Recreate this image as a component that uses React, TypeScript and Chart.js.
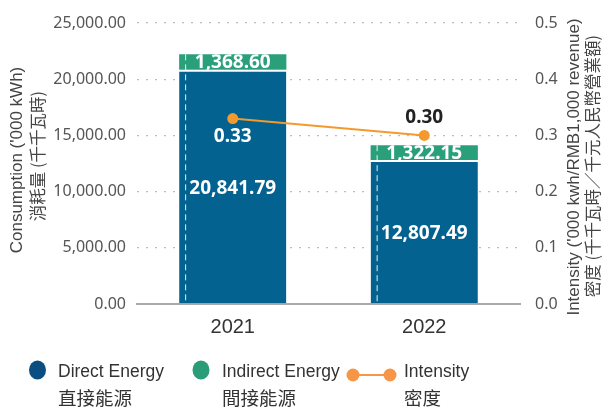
import { useEffect, useRef } from "react";
import { Chart, registerables } from "chart.js";
Chart.register(...registerables);

const years = ["2021", "2022"];
const directEnergy = [20841.79, 12807.49];
const indirectEnergy = [1368.6, 1322.15];
const intensity = [0.33, 0.3];
const leftMax = 25000;
const leftStep = 5000;
const rightMax = 0.5;
const rightStep = 0.1;

const BLUE = "#03628f";
const GREEN = "#2aa07a";
const ORANGE = "#f39a2e";
const LEG_BLUE = "#0b4f82";
const LEG_GREEN = "#2a9d78";
const LEG_ORANGE = "#f79646";
const LATIN = '"Liberation Sans", "Noto Sans CJK TC", sans-serif';
const LABEL = '"Noto Sans", "Noto Sans CJK TC", sans-serif';

const fmt2 = (v: number) =>
  v.toLocaleString("en-US", { minimumFractionDigits: 2, maximumFractionDigits: 2 });

const extras = {
  id: "extras",
  afterDatasetsDraw(chart: any) {
    const ctx = chart.ctx;
    const metaLine = chart.getDatasetMeta(0);
    const metaDirect = chart.getDatasetMeta(1);
    const metaIndirect = chart.getDatasetMeta(2);
    ctx.save();
    metaDirect.data.forEach((el: any, i: number) => {
      const top = metaIndirect.data[i].y;
      const left = el.x - el.width / 2 + 6;
      ctx.beginPath();
      ctx.setLineDash([6, 4]);
      ctx.strokeStyle = "rgba(255,255,255,0.9)";
      ctx.lineWidth = 1;
      ctx.moveTo(left + 0.5, top);
      ctx.lineTo(left + 0.5, el.base);
      ctx.stroke();
    });
    ctx.setLineDash([]);
    ctx.textAlign = "center";
    ctx.textBaseline = "middle";
    ctx.font = `bold 19px ${LABEL}`;
    ctx.fillStyle = "#ffffff";
    metaDirect.data.forEach((el: any, i: number) => {
      ctx.fillText(fmt2(directEnergy[i]), el.x, (el.y + el.base) / 2 + 2);
    });
    metaIndirect.data.forEach((el: any, i: number) => {
      ctx.save();
      ctx.beginPath();
      ctx.rect(el.x - el.width / 2, el.y, el.width, el.base - el.y);
      ctx.clip();
      ctx.fillText(fmt2(indirectEnergy[i]), el.x, (el.y + el.base) / 2 + 1);
      ctx.restore();
    });
    metaLine.data.forEach((el: any, i: number) => {
      if (i === 0) {
        ctx.fillStyle = "#ffffff";
        ctx.fillText(intensity[i].toFixed(2), el.x, el.y + 18);
      } else {
        ctx.fillStyle = "#222222";
        ctx.fillText(intensity[i].toFixed(2), el.x, el.y - 18);
      }
    });
    ctx.restore();
  },
  afterDraw(chart: any) {
    const ctx = chart.ctx;
    ctx.save();
    ctx.fillStyle = "#444";
    ctx.textAlign = "center";
    ctx.textBaseline = "middle";
    const rot = (x: number, y: number, t: string) => {
      ctx.save();
      ctx.translate(x, y);
      ctx.rotate(-Math.PI / 2);
      ctx.fillText(t, 0, 0);
      ctx.restore();
    };
    ctx.font = `17px ${LATIN}`;
    rot(17, 160, "Consumption ('000 kWh)");
    rot(574, 167, "Intensity ('000 kwh/RMB1,000 revenue)");
    ctx.font = `16.5px "Noto Sans CJK TC", ${LATIN}`;
    rot(38, 156, "消耗量 (千千瓦時)");
    rot(593, 166, "密度 (千千瓦時／千元人民幣營業額)");

    // legend
    ctx.fillStyle = LEG_BLUE;
    ctx.beginPath();
    ctx.ellipse(37.5, 370, 8.5, 9.5, 0, 0, Math.PI * 2);
    ctx.fill();
    ctx.fillStyle = LEG_GREEN;
    ctx.beginPath();
    ctx.ellipse(201, 370, 8.5, 9.5, 0, 0, Math.PI * 2);
    ctx.fill();
    ctx.strokeStyle = LEG_ORANGE;
    ctx.lineWidth = 2;
    ctx.beginPath();
    ctx.moveTo(353, 375);
    ctx.lineTo(390, 375);
    ctx.stroke();
    ctx.fillStyle = LEG_ORANGE;
    [353, 390].forEach((x) => {
      ctx.beginPath();
      ctx.arc(x, 375, 6.5, 0, Math.PI * 2);
      ctx.fill();
    });
    ctx.fillStyle = "#333";
    ctx.textAlign = "left";
    ctx.font = `17.5px ${LATIN}`;
    ctx.fillText("Direct Energy", 58, 372);
    ctx.fillText("Indirect Energy", 222, 372);
    ctx.fillText("Intensity", 404, 372);
    ctx.font = `18.5px "Noto Sans CJK TC", sans-serif`;
    ctx.fillText("直接能源", 58, 398);
    ctx.fillText("間接能源", 222, 398);
    ctx.fillText("密度", 404, 398);
    ctx.restore();
  },
};

export default function App() {
  const ref = useRef<HTMLCanvasElement>(null);
  useEffect(() => {
    if (!ref.current) return;
    const chart = new Chart(ref.current, {
      type: "bar",
      data: {
        labels: years,
        datasets: [
          {
            type: "line",
            label: "Intensity",
            data: intensity,
            yAxisID: "y1",
            borderColor: ORANGE,
            backgroundColor: ORANGE,
            borderWidth: 2,
            pointRadius: 5.5,
            pointBorderWidth: 0,
            order: 0,
          } as any,
          {
            label: "Direct Energy",
            data: directEnergy,
            backgroundColor: BLUE,
            borderColor: "#ffffff",
            borderWidth: { top: 2, left: 0, right: 0, bottom: 0 },
            borderSkipped: false,
            yAxisID: "y",
            stack: "s",
            order: 1,
            barPercentage: 0.56,
            categoryPercentage: 1,
          },
          {
            label: "Indirect Energy",
            data: indirectEnergy,
            backgroundColor: GREEN,
            borderWidth: 0,
            yAxisID: "y",
            stack: "s",
            order: 1,
            barPercentage: 0.56,
            categoryPercentage: 1,
          },
        ],
      },
      options: {
        responsive: false,
        animation: false,
        devicePixelRatio: 1,
        layout: { padding: { top: 23, bottom: 70, left: 0, right: 0 } },
        plugins: { legend: { display: false }, tooltip: { enabled: false } },
        scales: {
          x: {
            stacked: true,
            grid: { display: false },
            border: { display: true, color: "#aaaaaa", width: 2 },
            ticks: { color: "#333", font: { size: 20, family: LATIN }, padding: 3 },
            afterFit: (s: any) => {
              s.height = 34;
            },
          },
          y: {
            stacked: true,
            position: "left",
            min: 0,
            max: leftMax,
            ticks: {
              stepSize: leftStep,
              color: "#555",
              padding: 11,
              font: { size: 16, family: LABEL },
              callback: (v: any) => fmt2(Number(v)),
            },
            grid: { color: "#bdbdbd", lineWidth: 1.3, drawTicks: false },
            border: { display: false, dash: [2, 7] },
            afterFit: (s: any) => {
              s.width = 137;
            },
          },
          y1: {
            position: "right",
            min: 0,
            max: rightMax,
            ticks: {
              stepSize: rightStep,
              color: "#555",
              padding: 7,
              font: { size: 16, family: LABEL },
              callback: (v: any) => Number(v).toFixed(1),
            },
            grid: { display: false },
            border: { display: false },
            afterFit: (s: any) => {
              s.width = 86;
            },
          },
        },
      } as any,
      plugins: [extras],
    });
    return () => chart.destroy();
  }, []);
  return (
    <div style={{ position: "absolute", left: 0, top: 0, width: 606, height: 408, background: "#fff" }}>
      <canvas ref={ref} width={606} height={408} />
    </div>
  );
}
